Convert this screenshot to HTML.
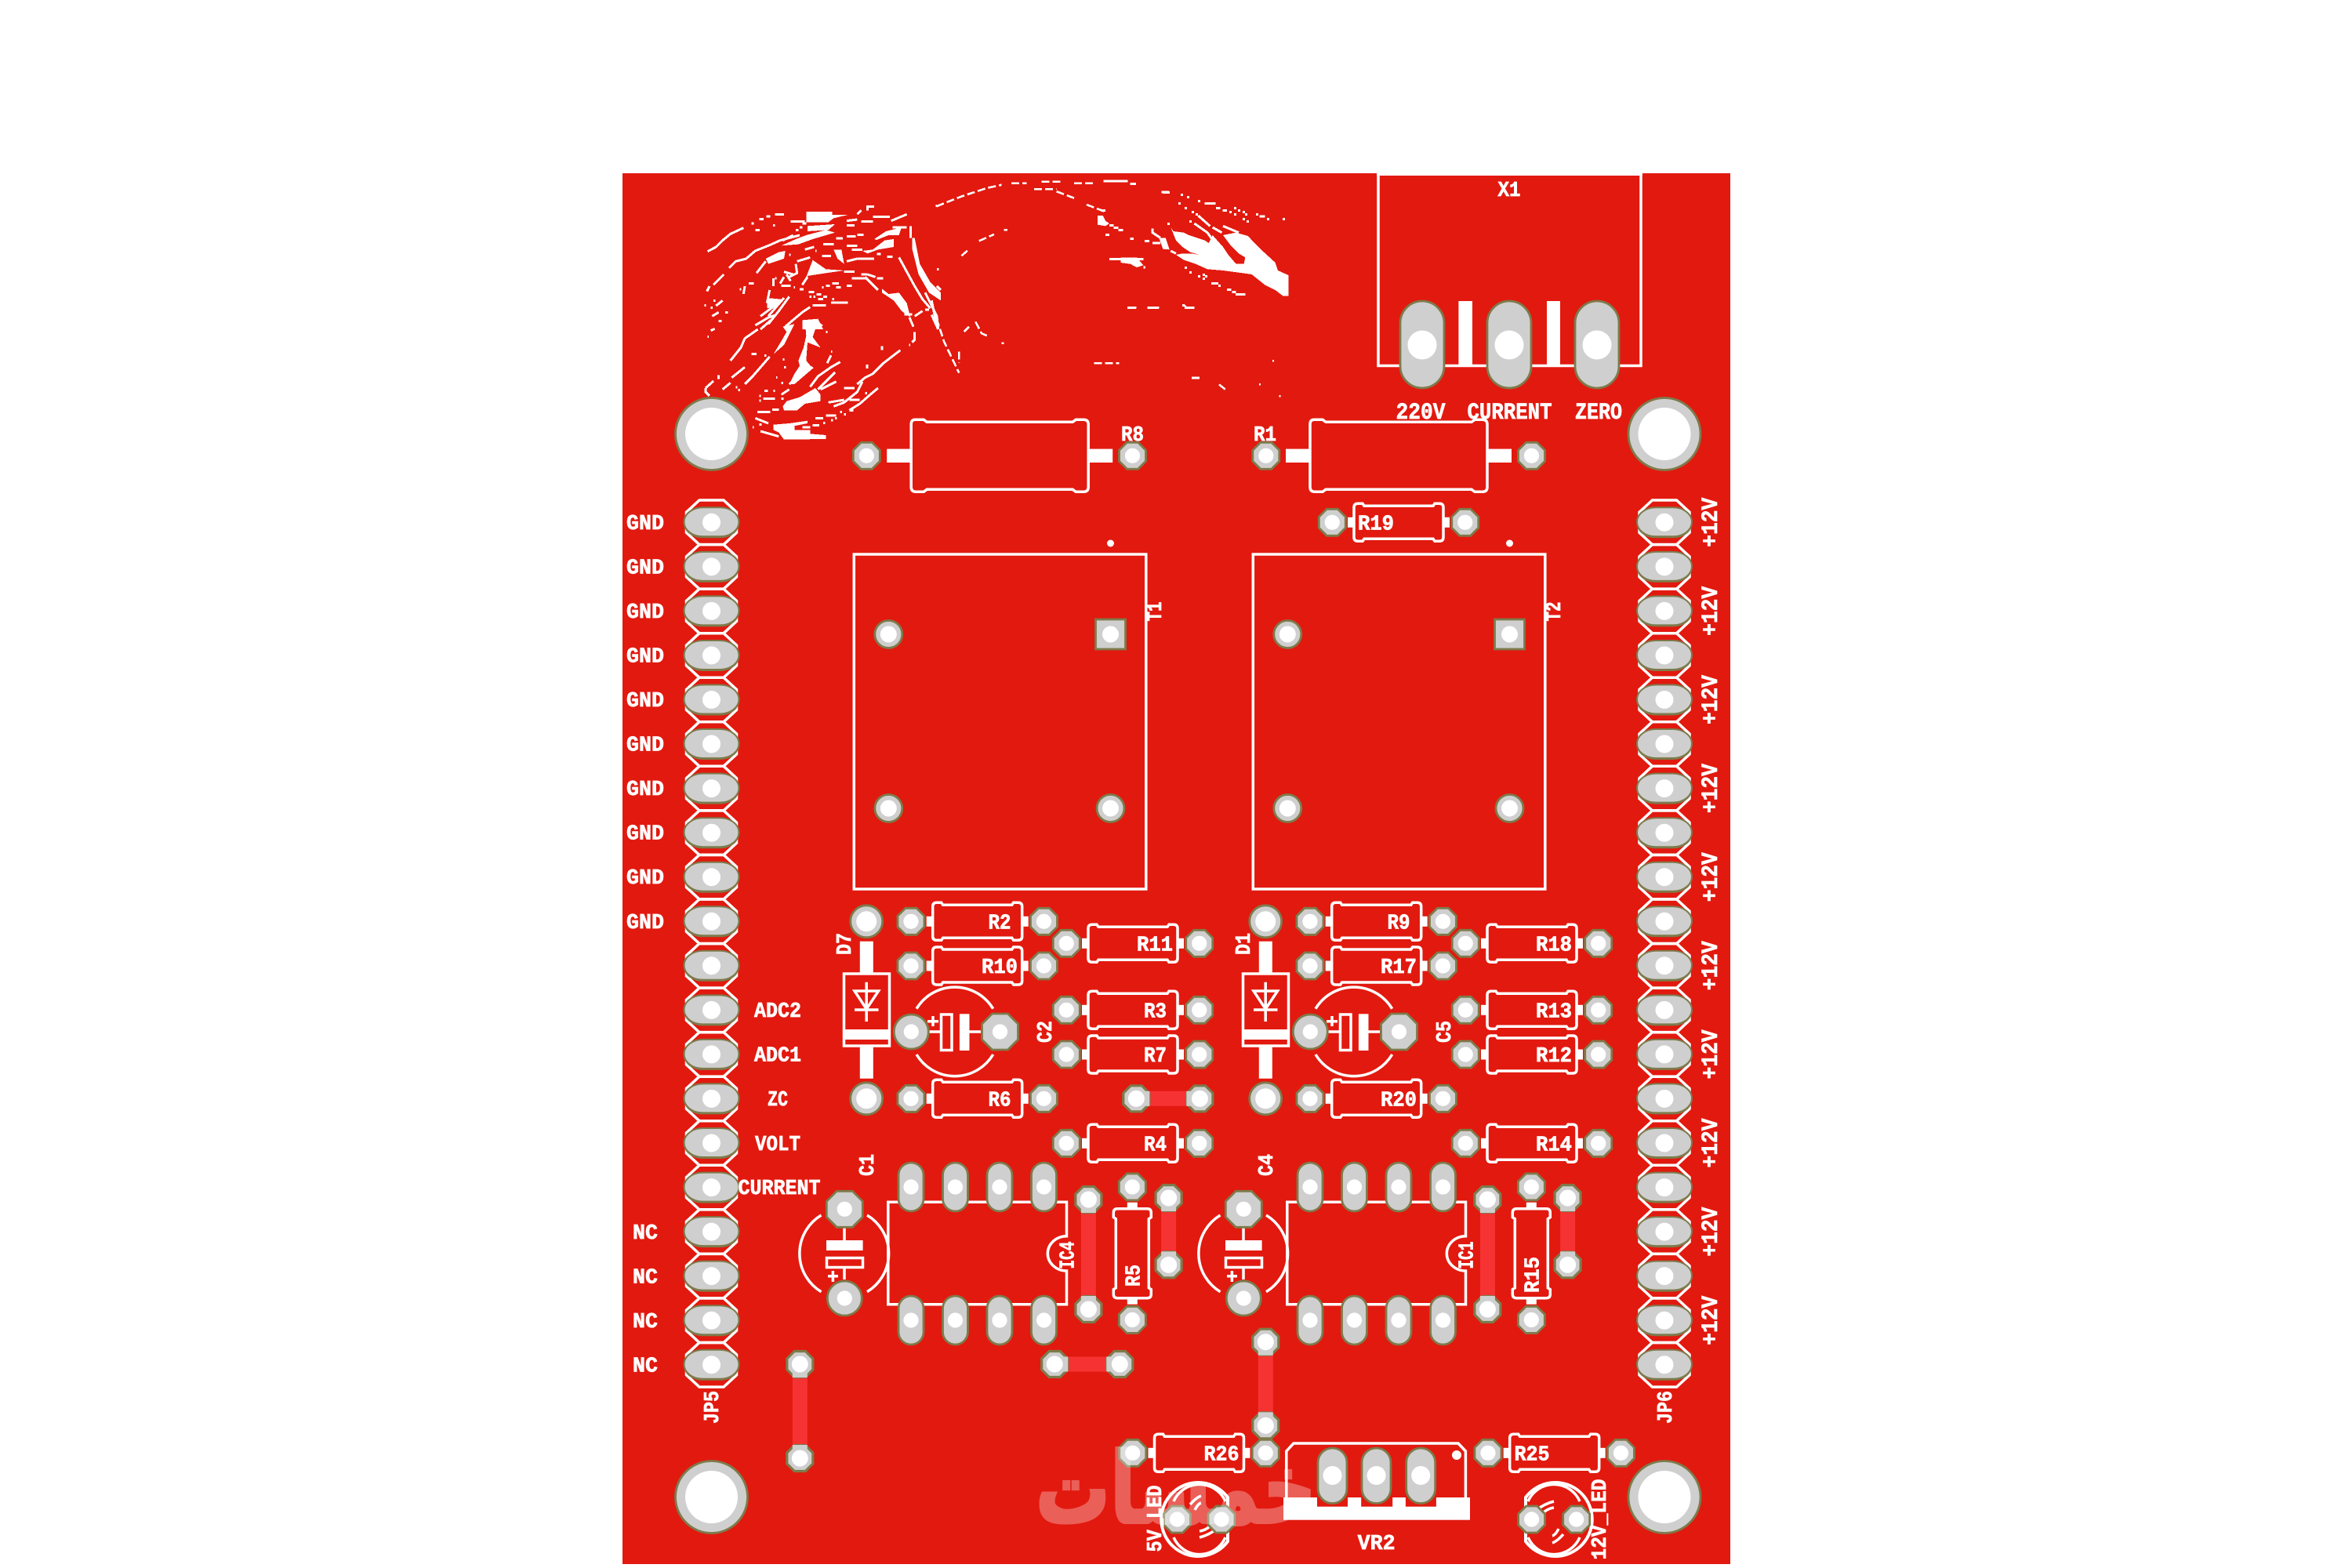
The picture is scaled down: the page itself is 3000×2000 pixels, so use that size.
<!DOCTYPE html>
<html><head><meta charset="utf-8"><style>
html,body{margin:0;padding:0;background:#fff}
svg{display:block}
text{font-family:"Liberation Mono","DejaVu Sans Mono",monospace;font-weight:bold;fill:#fff;font-size:27px;stroke:#fff;stroke-width:.7px}
.l{text-anchor:middle}
.n{fill:none;stroke:#fff;stroke-width:2.6;vector-effect:non-scaling-stroke}
.nz{fill:none;stroke:#fff;stroke-width:9}
.s{fill:none;stroke:#fff;stroke-width:3.5}
</style></head><body>
<svg xmlns="http://www.w3.org/2000/svg" width="3000" height="2000" viewBox="0 0 3000 2000">
<defs>
<g id="o"><polygon points="-7,-17 7,-17 17,-7 17,7 7,17 -7,17 -17,7 -17,-7" fill="#cfcfcf" stroke="#7d7b4c" stroke-width="2.8"/><circle r="9.6" fill="#fff"/></g>
<g id="O"><polygon points="-10,-23 10,-23 23,-10 23,10 10,23 -10,23 -23,10 -23,-10" fill="#cfcfcf" stroke="#7d7b4c" stroke-width="2.8"/><circle r="9.6" fill="#fff"/></g>
<g id="c"><circle r="22" fill="#cfcfcf" stroke="#7d7b4c" stroke-width="2.8"/><circle r="9.6" fill="#fff"/></g>
<g id="D"><circle r="20.5" fill="#cfcfcf" stroke="#7d7b4c" stroke-width="2.8"/><circle r="13" fill="#fff"/></g>
<g id="j"><polygon points="-7,-16.5 7,-16.5 16.5,-7 16.5,7 7,16.5 -7,16.5 -16.5,7 -16.5,-7" fill="#cfcfcf" stroke="#7d7b4c" stroke-width="3.2"/><rect x="0" y="-9.5" width="17" height="19" fill="#cfcfcf"/><circle r="10.5" fill="#fff"/></g>
<g id="p"><polygon points="-15.5,-28.3 15.5,-28.3 32,-13 32,13 15.5,28.3 -15.5,28.3 -32,13 -32,-13" class="s"/><rect x="-35.5" y="-18" width="71" height="38" rx="24" ry="19" fill="#7d7b4c"/><rect x="-35" y="-19" width="70" height="37" rx="24" ry="18.5" fill="#cfcfcf" stroke="#7d7b4c" stroke-width="2"/><circle r="11.5" fill="#fff"/></g>
<g id="r"><path class="s" d="M-57,-19Q-57,-24 -52,-24L-46,-24L-44,-21L44,-21L46,-24L52,-24Q57,-24 57,-19L57,19Q57,24 52,24L46,24L44,21L-44,21L-46,24L-52,24Q-57,24 -57,19Z"/><rect x="-65" y="-6.5" width="8" height="13" fill="#fff"/><rect x="57" y="-6.5" width="8" height="13" fill="#fff"/></g>
<g id="R"><use href="#r"/><use href="#o" x="-84.75"/><use href="#o" x="84.75"/></g>
<g id="L"><path class="s" d="M-108,-46Q-113,-46 -113,-40L-113,40Q-113,46 -107,46L-97,46L-93,43L93,43L97,46L107,46Q113,46 113,40L113,-40Q113,-46 107,-46L97,-46L93,-43L-93,-43L-97,-46Z"/><rect x="-144" y="-8.7" width="31" height="17.4" fill="#fff"/><rect x="113" y="-8.7" width="31" height="17.4" fill="#fff"/></g>
<g id="ic"><path class="s" d="M1360.5,1576.7V1533.3H1132.8V1663.7H1360.5V1621A24,22 0 0 1 1360.5,1576.7Z"/>
<g fill="#cfcfcf" stroke="#7d7b4c" stroke-width="2.8"><rect x="1146" y="1483" width="32" height="62" rx="16"/><rect x="1202.5" y="1483" width="32" height="62" rx="16"/><rect x="1259" y="1483" width="32" height="62" rx="16"/><rect x="1315.5" y="1483" width="32" height="62" rx="16"/><rect x="1146" y="1653" width="32" height="62" rx="16"/><rect x="1202.5" y="1653" width="32" height="62" rx="16"/><rect x="1259" y="1653" width="32" height="62" rx="16"/><rect x="1315.5" y="1653" width="32" height="62" rx="16"/></g>
<g fill="#fff"><circle cx="1162" cy="1514" r="9.6"/><circle cx="1218.5" cy="1514" r="9.6"/><circle cx="1275" cy="1514" r="9.6"/><circle cx="1331.5" cy="1514" r="9.6"/><circle cx="1162" cy="1684" r="9.6"/><circle cx="1218.5" cy="1684" r="9.6"/><circle cx="1275" cy="1684" r="9.6"/><circle cx="1331.5" cy="1684" r="9.6"/></g>
<path class="s" d="M1047.5,1550A57,57 0 0 0 1047.5,1647.7M1106,1550A57,57 0 0 1 1106,1647.7"/>
<rect x="1054" y="1582" width="46.6" height="13" fill="#fff"/><rect x="1054.5" y="1604.5" width="46" height="12" class="s"/>
<path class="s" d="M1077,1566V1582M1077,1616.7V1632M1056,1627.7H1069M1062.4,1621V1635"/>
<use href="#O" x="1077.3" y="1542.3"/><use href="#c" x="1077.3" y="1656"/>
</g>
<g id="df"><rect x="1076.5" y="1242" width="58" height="92" class="s"/><rect x="1076" y="1313" width="59" height="13" fill="#fff"/>
<rect x="1096.8" y="1200.7" width="17" height="41" fill="#fff"/><rect x="1096.8" y="1334" width="17" height="41.7" fill="#fff"/>
<path class="s" d="M1090,1264H1120.5L1105.2,1287ZM1090,1288H1120.5M1105.2,1252.7V1303"/>
<use href="#D" x="1105.2" y="1175.3"/><use href="#D" x="1105.2" y="1401.3"/>
<path class="s" d="M1169,1286.7A57,57 0 0 1 1266.7,1286.7M1169,1345A57,57 0 0 0 1266.7,1345"/>
<rect x="1200.5" y="1294" width="13.5" height="45.5" class="s"/><rect x="1223.9" y="1293.3" width="12.6" height="46.7" fill="#fff"/>
<path class="s" d="M1185,1316H1200M1236,1316H1251M1183,1302.7H1197M1190,1296V1309"/>
<use href="#c" x="1162.3" y="1316"/><use href="#O" x="1275.5" y="1316"/></g>
<g id="tr"><rect x="1089.3" y="707" width="372.5" height="427" class="s"/><circle cx="1416.5" cy="693" r="4.5" fill="#fff"/>
<circle cx="1133.3" cy="809" r="17.5" fill="#cfcfcf" stroke="#7d7b4c" stroke-width="2.8"/><circle cx="1133.3" cy="809" r="10.5" fill="#fff"/>
<rect x="1397.5" y="790" width="38" height="38" fill="#cfcfcf" stroke="#7d7b4c" stroke-width="2.8"/><circle cx="1416.5" cy="809" r="10.5" fill="#fff"/>
<circle cx="1133.3" cy="1031" r="17.5" fill="#cfcfcf" stroke="#7d7b4c" stroke-width="2.8"/><circle cx="1133.3" cy="1031" r="10.5" fill="#fff"/>
<circle cx="1416.5" cy="1031" r="17.5" fill="#cfcfcf" stroke="#7d7b4c" stroke-width="2.8"/><circle cx="1416.5" cy="1031" r="10.5" fill="#fff"/></g>
<g id="led"><path d="M36,-28A47,47 0 1 0 36,28Z" fill="none" stroke="#fff" stroke-width="4"/>
<path class="s" d="M-33,-23A36,36 0 0 1 33,-23M-33,23A36,36 0 0 0 33,23M-12,-19Q-4,-28 2,-30M-6,-12Q-2,-20 2,-21M0,15Q8,14 14,8M0,23Q12,20 22,12"/></g>
<g id="h"><circle r="46" fill="#cfcfcf" stroke="#7d7b4c" stroke-width="2.8"/><circle r="33.5" fill="#fff"/></g>
</defs>

<rect x="794" y="221" width="1413" height="1774" fill="#e2190f"/>

<!-- stray silkscreen artwork -->
<g shape-rendering="crispEdges">
<g transform="translate(780,200) scale(.6378,.4209)">
<path class="n" stroke-dasharray="10 4" d="M650,150L700,120L750,95L780,85M800,80H830M860,75H898M925,80H965M985,73H1030M845,98H890M890,105L930,128M950,145L985,165M700,300L715,280M735,255L765,235M785,222H792M650,490L665,560L695,655M695,590V625M728,500L740,535L755,545M705,530L715,515M780,565H785M1035,457H1050M1072,457H1095M1145,450L1150,457H1165M1160,670H1182M965,625H1015M1215,690L1230,708M1295,690H1298M1335,725H1338M1322,618H1325M1100,107H1115"/>
</g>
<g transform="translate(880,250) scale(.33333)">
<g fill="#fff">
<polygon points="445,60 545,60 545,72 605,72 550,85 530,100 445,100"/>
<polygon points="450,115 555,108 530,130 450,135"/>
<polygon points="405,165 445,150 520,130 555,140 470,165 415,185 350,190"/>
<polygon points="660,210 700,205 745,170 780,165 780,195 720,205 680,220"/>
<polygon points="705,165 750,135 810,120 800,150 760,150 715,168"/>
<polygon points="445,310 470,245 520,280 590,285 520,295 455,305"/>
<polygon points="550,205 580,205 590,260 565,240"/>
<polygon points="850,160 860,160 880,260 920,330 960,370 960,400 915,370 875,300 850,200"/>
<polygon points="735,355 760,375 800,370 830,410 845,470 855,490 845,465 810,440 780,400 735,370"/>
<polygon points="290,240 340,215 365,210 360,240 300,260"/>
<polygon points="295,390 350,395 340,420 295,430"/>
<polygon points="430,475 490,470 510,510 430,510"/>
</g>
<path class="nz" d="M68,212L100,195L125,170L155,145L205,122M325,70H360M265,88H282M292,78H308M250,130H267M235,105H244M318,112H325M150,275L175,250L215,240L250,210L305,188L345,170L420,150M255,295L290,250M385,98H440M430,105H445M405,130H415M845,115V160M620,315H680M655,300H680M680,300L710,310M670,310L720,360M715,315H740M590,290H630M640,240H705M600,250L640,240M600,155H635M640,148H665M510,185H550M560,162H585M600,112H630M600,95L640,90M655,97H700M700,80H765M775,120H830M770,95L830,70M680,55V40H705M640,70L655,55M600,190H640M620,205H660M755,232H775M715,222H730M405,260L410,295L380,310M360,290L395,300M345,335L360,310M370,300L385,325M350,343H385M420,357H435M505,349H512M520,343H535M545,335H570M560,349H578M600,343H620M455,367H475M485,376H503M490,395H510M510,385H525M458,385H465M472,385H480M540,408H605M470,418H520M545,395H552M430,340L450,310M320,345V315M210,345L205,375M225,335H245M190,357H197M65,365L75,345M90,340L130,300M90,400H97M125,400L100,420M55,418H62M80,428H87M85,460L110,445M135,445H145M115,478H122M305,360L295,410M380,385L340,440L300,490M360,390L300,460M270,460L350,400M460,425L430,445L400,470L365,500M800,235L860,345L890,395L920,430M890,440L860,460M900,435H915M945,280H952M900,370L945,460L950,510M925,400L945,500M940,37H945M420,120H430M355,170L395,150M440,205L475,195M505,230H540M410,250L460,235M480,210H485M380,225H385M325,315H332M397,350H402M945,345L960,360"/>
</g>
<g transform="translate(880,400) scale(.33333)">
<g fill="#fff">
<polygon points="440,25 490,30 510,45 480,60 470,90 500,130 450,110 445,180 470,210 400,270 380,270 400,230 420,200 415,180 435,130 445,85"/>
<polygon points="320,155 350,105 370,70 355,50 400,40 380,80 360,120"/>
<polygon points="370,335 420,320 480,285 500,310 500,335 440,345 410,370 360,370 355,355"/>
<polygon points="320,425 380,420 450,410 450,420 400,430 400,445 460,445 460,460 520,465 520,480 360,482 340,455 320,445"/>
</g>
<path class="nz" d="M250,45L300,15L330,5M270,60L310,25M155,180L195,130L210,95L260,60M110,250V235M60,285L90,258M125,290L155,265M160,245L210,205M185,292H192M175,282H182M210,270L240,240L305,165M235,155H255M285,160H292M60,285V300L75,315M350,310L380,290M285,295H298M320,295H325M280,325H325M265,315H272M265,333H272M350,325H358M380,270L470,205M460,280L490,240L540,205L575,185M490,290L550,230M500,290L560,260M520,260L555,225M540,160L525,190M540,145H545M590,285H630M530,340L590,330M550,355L590,340L640,300L660,260M610,330H650M610,370L650,345L690,310L720,285M670,305H678M640,270L670,245L700,230L740,190L805,140M678,195V210M735,125V140M838,120H843M860,70V100L850,110M840,15L855,50M820,3H850M925,5L950,60M258,377H308M315,367H340M250,400L300,420M480,400H510M470,427H495M430,435H460M520,390H560M510,418H518M540,408H547M555,400H562M575,377H582M590,385H597M610,370H625M330,245H335M360,205H368M350,265H357M355,175H362M520,70H527M80,65L95,58M68,88H72M110,28H118M270,450L340,470M240,435H245M265,425H275"/>
</g>
<g transform="translate(1400,225) scale(.33333)">
<g fill="#fff">
<polygon points="280,195 290,210 330,215 350,225 410,245 425,255 440,225 480,270 500,300 530,335 560,335 565,310 540,295 510,265 480,225 530,215 575,228 620,275 680,330 690,360 730,378 730,458 710,458 680,435 640,415 590,375 555,370 480,360 420,355 375,335 330,320 300,300 325,295 360,295 390,300 355,290 325,270 300,245"/>
<polygon points="88,310 150,310 175,340 150,348 125,335 88,330"/>
<polygon points="0,150 20,150 30,170 45,180 30,190 0,185"/>
<polygon points="235,235 260,235 275,280 250,278"/>
</g>
<path class="nz" d="M210,200V215L240,235M210,255H240M280,285L300,295M385,150L430,190M370,180L420,215L445,250M440,195L475,215M480,190L540,215M45,317H175M22,18H115M124,28H147M250,61H276M410,103H452M453,121H470M478,130H495M620,153H640M318,70H327M342,79H351M384,94H393M309,103H318M333,121H342M360,136H369M375,145H384M267,181H276M351,172H360M522,121H531M537,130H546M504,136H513M522,145H531M555,136H564M564,145H573M555,163H564M570,172H579M606,145H615M648,163H657M708,163H717M333,349H342M351,367H360M384,382H393M402,377H411M411,382H420M402,391H411M435,409H462M462,418H471M495,433H512M515,442H530M528,451H565M114,502H147M190,502H234M333,502H370M324,493H333M45,187H62M62,196H80M80,205H97M12,130H30M30,223H45M124,238H138M180,247H198M175,348H183"/>
</g>
</g>

<!-- mounting holes -->
<use href="#h" x="907.5" y="553.5"/><use href="#h" x="2123" y="553.5"/><use href="#h" x="907.5" y="1909.5"/><use href="#h" x="2123" y="1909.5"/>

<!-- X1 -->
<rect x="1758" y="221" width="335" height="245.5" class="s" stroke-width="4"/>
<rect x="1756" y="219" width="339" height="5" fill="#fff"/>
<rect x="1860.4" y="384" width="17.6" height="83" fill="#fff"/><rect x="1973" y="384" width="17" height="83" fill="#fff"/>
<g fill="#cfcfcf" stroke="#7d7b4c" stroke-width="2.8"><rect x="1786" y="384" width="56" height="111" rx="28"/><rect x="1897" y="384" width="56" height="111" rx="28"/><rect x="2009" y="384" width="56" height="111" rx="28"/></g>
<g fill="#fff"><circle cx="1814" cy="440" r="18.5"/><circle cx="1925" cy="440" r="18.5"/><circle cx="2037" cy="440" r="18.5"/></g>
<text class="l" x="1925" y="250" textLength="29" lengthAdjust="spacingAndGlyphs">X1</text>
<text class="l" x="1812" y="534" style="font-size:30px" textLength="63" lengthAdjust="spacingAndGlyphs">220V</text>
<text class="l" x="1925.5" y="534" style="font-size:30px" textLength="108" lengthAdjust="spacingAndGlyphs">CURRENT</text>
<text class="l" x="2039" y="534" style="font-size:30px" textLength="60" lengthAdjust="spacingAndGlyphs">ZERO</text>

<!-- headers -->
<use href="#p" x="907.5" y="666.3"/><use href="#p" x="907.5" y="722.9"/><use href="#p" x="907.5" y="779.4"/><use href="#p" x="907.5" y="836"/><use href="#p" x="907.5" y="892.5"/><use href="#p" x="907.5" y="949"/><use href="#p" x="907.5" y="1005.6"/><use href="#p" x="907.5" y="1062.2"/><use href="#p" x="907.5" y="1118.7"/><use href="#p" x="907.5" y="1175.3"/><use href="#p" x="907.5" y="1231.8"/><use href="#p" x="907.5" y="1288.4"/><use href="#p" x="907.5" y="1344.9"/><use href="#p" x="907.5" y="1401.4"/><use href="#p" x="907.5" y="1458"/><use href="#p" x="907.5" y="1514.6"/><use href="#p" x="907.5" y="1571.1"/><use href="#p" x="907.5" y="1627.6"/><use href="#p" x="907.5" y="1684.2"/><use href="#p" x="907.5" y="1740.8"/>
<use href="#p" x="2123" y="666.3"/><use href="#p" x="2123" y="722.9"/><use href="#p" x="2123" y="779.4"/><use href="#p" x="2123" y="836"/><use href="#p" x="2123" y="892.5"/><use href="#p" x="2123" y="949"/><use href="#p" x="2123" y="1005.6"/><use href="#p" x="2123" y="1062.2"/><use href="#p" x="2123" y="1118.7"/><use href="#p" x="2123" y="1175.3"/><use href="#p" x="2123" y="1231.8"/><use href="#p" x="2123" y="1288.4"/><use href="#p" x="2123" y="1344.9"/><use href="#p" x="2123" y="1401.4"/><use href="#p" x="2123" y="1458"/><use href="#p" x="2123" y="1514.6"/><use href="#p" x="2123" y="1571.1"/><use href="#p" x="2123" y="1627.6"/><use href="#p" x="2123" y="1684.2"/><use href="#p" x="2123" y="1740.8"/>

<g>
<text class="l" x="823" y="675" textLength="48" lengthAdjust="spacingAndGlyphs">GND</text><text class="l" x="823" y="731.5" textLength="48" lengthAdjust="spacingAndGlyphs">GND</text><text class="l" x="823" y="788" textLength="48" lengthAdjust="spacingAndGlyphs">GND</text><text class="l" x="823" y="844.5" textLength="48" lengthAdjust="spacingAndGlyphs">GND</text><text class="l" x="823" y="901" textLength="48" lengthAdjust="spacingAndGlyphs">GND</text><text class="l" x="823" y="957.5" textLength="48" lengthAdjust="spacingAndGlyphs">GND</text><text class="l" x="823" y="1014" textLength="48" lengthAdjust="spacingAndGlyphs">GND</text><text class="l" x="823" y="1070.5" textLength="48" lengthAdjust="spacingAndGlyphs">GND</text><text class="l" x="823" y="1127" textLength="48" lengthAdjust="spacingAndGlyphs">GND</text><text class="l" x="823" y="1184" textLength="48" lengthAdjust="spacingAndGlyphs">GND</text>
<text class="l" x="823" y="1580" textLength="32" lengthAdjust="spacingAndGlyphs">NC</text><text class="l" x="823" y="1636.5" textLength="32" lengthAdjust="spacingAndGlyphs">NC</text><text class="l" x="823" y="1693" textLength="32" lengthAdjust="spacingAndGlyphs">NC</text><text class="l" x="823" y="1749.5" textLength="32" lengthAdjust="spacingAndGlyphs">NC</text>
<text class="l" x="992" y="1297" textLength="60" lengthAdjust="spacingAndGlyphs">ADC2</text><text class="l" x="992" y="1353.5" textLength="60" lengthAdjust="spacingAndGlyphs">ADC1</text><text class="l" x="992" y="1410" textLength="26" lengthAdjust="spacingAndGlyphs">ZC</text><text class="l" x="992" y="1467" textLength="58" lengthAdjust="spacingAndGlyphs">VOLT</text><text class="l" x="994" y="1523" textLength="105" lengthAdjust="spacingAndGlyphs">CURRENT</text>
</g>
<g>
<text class="l" transform="translate(2190,666.3) rotate(-90)" style="font-size:30px" textLength="63" lengthAdjust="spacingAndGlyphs">+12V</text>
<text class="l" transform="translate(2190,779.4) rotate(-90)" style="font-size:30px" textLength="63" lengthAdjust="spacingAndGlyphs">+12V</text>
<text class="l" transform="translate(2190,892.5) rotate(-90)" style="font-size:30px" textLength="63" lengthAdjust="spacingAndGlyphs">+12V</text>
<text class="l" transform="translate(2190,1005.6) rotate(-90)" style="font-size:30px" textLength="63" lengthAdjust="spacingAndGlyphs">+12V</text>
<text class="l" transform="translate(2190,1118.7) rotate(-90)" style="font-size:30px" textLength="63" lengthAdjust="spacingAndGlyphs">+12V</text>
<text class="l" transform="translate(2190,1231.8) rotate(-90)" style="font-size:30px" textLength="63" lengthAdjust="spacingAndGlyphs">+12V</text>
<text class="l" transform="translate(2190,1344.9) rotate(-90)" style="font-size:30px" textLength="63" lengthAdjust="spacingAndGlyphs">+12V</text>
<text class="l" transform="translate(2190,1458) rotate(-90)" style="font-size:30px" textLength="63" lengthAdjust="spacingAndGlyphs">+12V</text>
<text class="l" transform="translate(2190,1571.1) rotate(-90)" style="font-size:30px" textLength="63" lengthAdjust="spacingAndGlyphs">+12V</text>
<text class="l" transform="translate(2190,1684.2) rotate(-90)" style="font-size:30px" textLength="63" lengthAdjust="spacingAndGlyphs">+12V</text>
<text class="l" transform="translate(916,1795) rotate(-90)" textLength="42" lengthAdjust="spacingAndGlyphs">JP5</text>
<text class="l" transform="translate(2132,1795) rotate(-90)" textLength="42" lengthAdjust="spacingAndGlyphs">JP6</text>
</g>

<!-- large resistors -->
<use href="#L" x="1275.2" y="581.3"/><use href="#o" x="1105.3" y="581.3"/><use href="#o" x="1444.5" y="581.3"/>
<use href="#L" x="1784" y="581.3"/><use href="#o" x="1614.8" y="581.3"/><use href="#o" x="1953.5" y="581.3"/>
<text class="l" x="1444.5" y="562" textLength="29" lengthAdjust="spacingAndGlyphs">R8</text>
<text class="l" x="1613.5" y="562" textLength="29" lengthAdjust="spacingAndGlyphs">R1</text>
<use href="#R" x="1784" y="666.3"/><text class="l" x="1755" y="675.5" textLength="46" lengthAdjust="spacingAndGlyphs">R19</text>

<!-- transformers -->
<use href="#tr"/><use href="#tr" x="509"/>
<text class="l" transform="translate(1481,780) rotate(-90)" textLength="25" lengthAdjust="spacingAndGlyphs">T1</text>
<text class="l" transform="translate(1990,780) rotate(-90)" textLength="25" lengthAdjust="spacingAndGlyphs">T2</text>

<!-- diodes + caps -->
<use href="#df"/><use href="#df" x="509"/>
<text class="l" transform="translate(1085,1204) rotate(-90)" textLength="28" lengthAdjust="spacingAndGlyphs">D7</text>
<text class="l" transform="translate(1594,1204) rotate(-90)" textLength="28" lengthAdjust="spacingAndGlyphs">D1</text>
<text class="l" transform="translate(1341,1316) rotate(-90)" textLength="28" lengthAdjust="spacingAndGlyphs">C2</text>
<text class="l" transform="translate(1850,1316) rotate(-90)" textLength="28" lengthAdjust="spacingAndGlyphs">C5</text>

<!-- small resistors -->
<use href="#R" x="1246.7" y="1175.3"/><use href="#R" x="1246.7" y="1232"/><use href="#R" x="1246.7" y="1401.3"/>
<use href="#R" x="1445" y="1203.3"/><use href="#R" x="1445" y="1288.3"/><use href="#R" x="1445" y="1345"/><use href="#R" x="1445" y="1458.3"/>
<use href="#R" x="1755.7" y="1175.3"/><use href="#R" x="1755.7" y="1232"/><use href="#R" x="1755.7" y="1401.3"/>
<use href="#R" x="1954" y="1203.3"/><use href="#R" x="1954" y="1288.3"/><use href="#R" x="1954" y="1345"/><use href="#R" x="1954" y="1458.3"/>
<text class="l" x="1275" y="1184.5" textLength="29" lengthAdjust="spacingAndGlyphs">R2</text>
<text class="l" x="1275" y="1241" textLength="46" lengthAdjust="spacingAndGlyphs">R10</text>
<text class="l" x="1275" y="1410.5" textLength="29" lengthAdjust="spacingAndGlyphs">R6</text>
<text class="l" x="1473" y="1212.5" textLength="46" lengthAdjust="spacingAndGlyphs">R11</text>
<text class="l" x="1473.5" y="1297.5" textLength="29" lengthAdjust="spacingAndGlyphs">R3</text>
<text class="l" x="1473.5" y="1354" textLength="29" lengthAdjust="spacingAndGlyphs">R7</text>
<text class="l" x="1473.5" y="1467.5" textLength="29" lengthAdjust="spacingAndGlyphs">R4</text>
<text class="l" x="1784" y="1184.5" textLength="29" lengthAdjust="spacingAndGlyphs">R9</text>
<text class="l" x="1784" y="1241" textLength="46" lengthAdjust="spacingAndGlyphs">R17</text>
<text class="l" x="1784" y="1410.5" textLength="46" lengthAdjust="spacingAndGlyphs">R20</text>
<text class="l" x="1982" y="1212.5" textLength="46" lengthAdjust="spacingAndGlyphs">R18</text>
<text class="l" x="1982" y="1297.5" textLength="46" lengthAdjust="spacingAndGlyphs">R13</text>
<text class="l" x="1982" y="1354" textLength="46" lengthAdjust="spacingAndGlyphs">R12</text>
<text class="l" x="1982" y="1467.5" textLength="46" lengthAdjust="spacingAndGlyphs">R14</text>

<!-- jumpers -->
<g stroke="#f63232" stroke-width="19"><path d="M1449.3,1401.3H1530.4M1388.4,1530V1670M1490.6,1528V1613.3M1345.2,1740H1428.3M1020.3,1740V1860M1897.4,1530V1670M1999.6,1528V1613.3M1614.3,1711.7V1818.3"/></g>
<use href="#j" transform="translate(1449.3,1401.3)"/><use href="#j" transform="translate(1530.4,1401.3) rotate(180)"/>
<use href="#j" transform="translate(1388.4,1530) rotate(90)"/><use href="#j" transform="translate(1388.4,1670) rotate(-90)"/>
<use href="#j" transform="translate(1490.6,1528) rotate(90)"/><use href="#j" transform="translate(1490.6,1613.3) rotate(-90)"/>
<use href="#j" transform="translate(1345.2,1740)"/><use href="#j" transform="translate(1428.3,1740) rotate(180)"/>
<use href="#j" transform="translate(1020.3,1740) rotate(90)"/><use href="#j" transform="translate(1020.3,1860) rotate(-90)"/>
<use href="#j" transform="translate(1897.4,1530) rotate(90)"/><use href="#j" transform="translate(1897.4,1670) rotate(-90)"/>
<use href="#j" transform="translate(1999.6,1528) rotate(90)"/><use href="#j" transform="translate(1999.6,1613.3) rotate(-90)"/>
<use href="#j" transform="translate(1614.3,1711.7) rotate(90)"/><use href="#j" transform="translate(1614.3,1818.3) rotate(-90)"/>

<!-- ICs -->
<use href="#ic"/><use href="#ic" x="509"/>
<text class="l" transform="translate(1105,1486) rotate(-90) translate(0,9)" textLength="28" lengthAdjust="spacingAndGlyphs">C1</text>
<text class="l" transform="translate(1614,1486) rotate(-90) translate(0,9)" textLength="28" lengthAdjust="spacingAndGlyphs">C4</text>
<text class="l" transform="translate(1360.5,1601) rotate(-90) translate(0,9)" textLength="35" lengthAdjust="spacingAndGlyphs">IC4</text>
<text class="l" transform="translate(1869.5,1601) rotate(-90) translate(0,9)" textLength="35" lengthAdjust="spacingAndGlyphs">IC1</text>
<use href="#R" transform="translate(1444.3,1598.7) rotate(90)"/>
<use href="#R" transform="translate(1953.3,1598.7) rotate(90)"/>
<text class="l" transform="translate(1444.3,1627) rotate(-90) translate(0,9)" textLength="28" lengthAdjust="spacingAndGlyphs">R5</text>
<text class="l" transform="translate(1953.3,1626) rotate(-90) translate(0,9)" textLength="46" lengthAdjust="spacingAndGlyphs">R15</text>

<!-- bottom row -->
<use href="#R" x="1529.5" y="1853.3"/><use href="#R" x="1982.7" y="1853.3"/>
<text class="l" x="1558" y="1862.5" textLength="45" lengthAdjust="spacingAndGlyphs">R26</text>
<text class="l" x="1954" y="1862.5" textLength="45" lengthAdjust="spacingAndGlyphs">R25</text>
<path class="s" d="M1640.8,1911V1851L1650,1841H1860L1869.4,1851V1911"/>
<rect x="1637" y="1910" width="238" height="28.7" fill="#fff"/>
<g fill="#e2190f"><rect x="1680" y="1910" width="39" height="11.7"/><rect x="1736.2" y="1910" width="40" height="11.7"/><rect x="1792.9" y="1910" width="39" height="11.7"/></g>
<g fill="#cfcfcf" stroke="#7d7b4c" stroke-width="2.8"><rect x="1681" y="1847" width="37" height="70.5" rx="18.5"/><rect x="1737" y="1847" width="37" height="70.5" rx="18.5"/><rect x="1793.7" y="1847" width="37" height="70.5" rx="18.5"/></g>
<g fill="#fff"><circle cx="1699.5" cy="1882" r="12"/><circle cx="1755.6" cy="1882" r="12"/><circle cx="1812.2" cy="1882" r="12"/><circle cx="1858" cy="1856" r="6"/></g>
<text class="l" x="1755.6" y="1976" textLength="48" lengthAdjust="spacingAndGlyphs">VR2</text>

<use href="#led" x="1530" y="1938"/>
<use href="#led" transform="translate(1982,1938) rotate(180)"/>
<use href="#o" x="1501.5" y="1938"/><use href="#o" x="1558" y="1938"/><use href="#o" x="1953.6" y="1938"/><use href="#o" x="2010.7" y="1938"/>
<text class="l" transform="translate(1481,1937) rotate(-90)" textLength="85" lengthAdjust="spacingAndGlyphs">5V_LED</text>
<text class="l" transform="translate(2048,1938) rotate(-90)" textLength="103" lengthAdjust="spacingAndGlyphs">12V_LED</text>

<!-- watermark -->
<g opacity=".3"><text x="1500" y="1942" text-anchor="middle" textLength="358" lengthAdjust="spacingAndGlyphs" style="font-family:'DejaVu Sans',sans-serif;font-weight:bold;font-size:125px;stroke-width:4px">خمسات</text></g>
</svg>
</body></html>
